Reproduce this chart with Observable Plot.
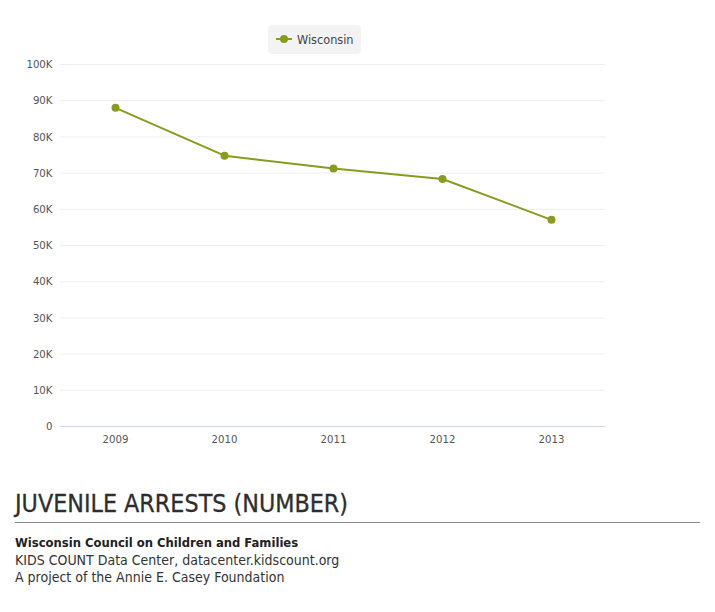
<!DOCTYPE html>
<html>
<head>
<meta charset="utf-8">
<script src="https://cdn.jsdelivr.net/npm/d3@7"></script>
<script src="https://cdn.jsdelivr.net/npm/@observablehq/plot@0.6"></script>
<style>
  body { margin: 0; background: #fff; font-family: "DejaVu Sans Condensed", "DejaVu Sans", sans-serif; }
  #wrap { position: relative; width: 715px; }
  .legend { height: 56px; position: relative; }
  .legend .box { position: absolute; left: 268px; top: 25px; width: 93px; height: 29px;
    background: #f3f3f3; border-radius: 4px; box-sizing: border-box; }
  .legend svg { position: absolute; left: 8px; top: 8px; }
  .legend span { position: absolute; left: 29px; top: 7px; font-size: 12.6px; color: #444; }
  #chart svg { display: block; }
  .title { margin: 33px 15px 0 15px; font-size: 24.8px; color: #2e2e2e; line-height: 30px;
    padding-bottom: 3px; border-bottom: 1px solid #8a8a8a; -webkit-text-stroke: 0.3px #2e2e2e; }
  .source { margin: 11px 15px 0 15px; font-size: 14px; color: #333; line-height: 17.5px; }
  .source b { color: #222; font-size: 12.9px; }
</style>
</head>
<body>
<div id="wrap">
  <div class="legend"><div class="box">
    <svg width="18" height="12"><line x1="0" y1="6" x2="16" y2="6" stroke="#8a9b1f" stroke-width="2"/><circle cx="8" cy="6" r="4" fill="#8a9b1f"/></svg>
    <span>Wisconsin</span>
  </div></div>
  <div id="chart"></div>
  <div class="title">JUVENILE ARRESTS (NUMBER)</div>
  <div class="source"><b>Wisconsin Council on Children and Families</b><br>KIDS COUNT Data Center, datacenter.kidscount.org<br>A project of the Annie E. Casey Foundation</div>
</div>
<script>
const years = ["2009", "2010", "2011", "2012", "2013"];
const arrests = [88020, 74810, 71250, 68380, 57090];
const yTicks = [0, 10000, 20000, 30000, 40000, 50000, 60000, 70000, 80000, 90000, 100000];
const seriesName = "Wisconsin";

const rows = years.map((year, i) => ({year, value: arrests[i], series: seriesName}));
const green = "#8a9b1f";
const fmt = d => d === 0 ? "0" : `${d / 1000}K`;

const chart = Plot.plot({
  width: 715,
  height: 400,
  marginTop: 8,
  marginBottom: 30,
  marginLeft: 60,
  marginRight: 110,
  style: {fontFamily: "'DejaVu Sans Condensed', 'DejaVu Sans', sans-serif", fontSize: "11.3px", color: "#555", background: "#fff"},
  x: {type: "point", domain: years, padding: 0.5, label: null},
  y: {domain: [0, 100000], label: null},
  marks: [
    Plot.gridY(yTicks, {stroke: "#eeeeee", strokeOpacity: 1}),
    Plot.axisY(yTicks, {tickSize: 0, tickPadding: 8, tickFormat: fmt, fill: "#555"}),
    Plot.axisX({tickSize: 0, tickPadding: 8, fill: "#555"}),
    Plot.ruleY([0], {stroke: "#ccd6eb"}),
    Plot.line(rows, {x: "year", y: "value", stroke: green, strokeWidth: 2}),
    Plot.dot(rows, {x: "year", y: "value", fill: green, r: 4})
  ]
});
document.getElementById("chart").append(chart);
</script>
</body>
</html>
